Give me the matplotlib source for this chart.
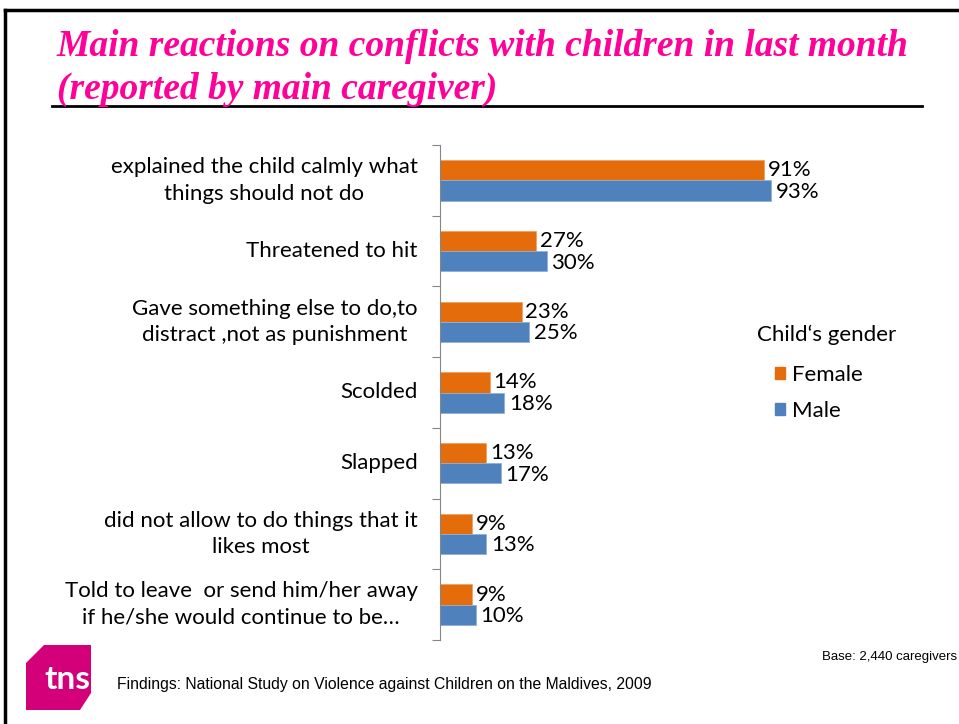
import matplotlib
matplotlib.use('Agg')
import matplotlib.pyplot as plt
from matplotlib.patches import Polygon, Patch
from matplotlib.lines import Line2D
import numpy as np

categories = [
    'explained the child calmly what\nthings should not do',
    'Threatened to hit',
    'Gave something else to do,to\ndistract ,not as punishment',
    'Scolded',
    'Slapped',
    'did not allow to do things that it\nlikes most',
    'Told to leave  or send him/her away\nif he/she would continue to be…',
]
female = [91, 27, 23, 14, 13, 9, 9]
male = [93, 30, 25, 18, 17, 13, 10]

ORANGE = '#E46C0A'
BLUE = '#4F81BD'
PINK = '#FF0099'
W, H = 959, 724

plt.rcParams['font.family'] = ['Lato', 'DejaVu Sans']

fig = plt.figure(figsize=(W / 100, H / 100), dpi=100)


def px(x0, y0, x1, y1):
    # pixel box (top-left origin) -> figure fraction rect
    return [x0 / W, 1 - y1 / H, (x1 - x0) / W, (y1 - y0) / H]


# slide frame
fig.add_artist(Line2D([5 / W, 1], [1 - 10 / H, 1 - 10 / H], color='black', lw=2.5,
                      transform=fig.transFigure))
fig.add_artist(Line2D([5 / W, 5 / W], [1 - 10 / H, 0], color='black', lw=2.5,
                      transform=fig.transFigure))

# title
fig.text(57 / W, 1 - 56 / H, 'Main reactions on conflicts with children in last month',
         family='Liberation Serif', weight='bold', style='italic', color=PINK,
         fontsize=27, va='baseline', ha='left')
fig.text(57 / W, 1 - 99 / H, '(reported by main caregiver)',
         family='Liberation Serif', weight='bold', style='italic', color=PINK,
         fontsize=27, va='baseline', ha='left')
fig.add_artist(Line2D([52 / W, 922 / W], [1 - 106 / H, 1 - 106 / H], color='black',
                      lw=2, transform=fig.transFigure))

# bar chart
ax = fig.add_axes(px(440, 145, 796, 640))
n = len(categories)
y = np.arange(n)
h = 0.285
ax.barh(y - h / 2, female, height=h, color=ORANGE, edgecolor='#F0A060', lw=0.6, label='Female')
ax.barh(y + h / 2, male, height=h, color=BLUE, edgecolor='#8FB0DA', lw=0.6, label='Male')
for i in range(n):
    ax.text(female[i] + 1.0, y[i] - h / 2, f'{female[i]}%', va='center', ha='left', fontsize=16)
    ax.text(male[i] + 1.3, y[i] + h / 2 + 0.02, f'{male[i]}%', va='center', ha='left', fontsize=16)

ax.set_xlim(0, 100)
ax.set_ylim(n - 0.5, -0.5)
for s in ['top', 'right', 'bottom']:
    ax.spines[s].set_visible(False)
ax.spines['left'].set_color('#868686')
ax.set_xticks([])
ax.set_yticks(np.arange(n + 1) - 0.5)
ax.set_yticklabels([])
ax.tick_params(axis='y', length=6, color='#868686', direction='out')

for i, c in enumerate(categories):
    ax.text(-6.3, y[i], c, ha='right', va='center', fontsize=16, linespacing=1.4,
            multialignment='center')

# legend
fig.text(757 / W, 1 - 335 / H, 'Child\u2018s gender', fontsize=16, va='center', ha='left')
handles = [Patch(color=ORANGE), Patch(color=BLUE)]
fig.legend(handles, ['Female', 'Male'], loc='upper left', bbox_to_anchor=(766 / W, 1 - 356 / H),
           frameon=False, fontsize=16, handlelength=0.45, handleheight=0.45, handletextpad=0.3,
           labelspacing=0.72, borderaxespad=0)

# footer
fig.text(117 / W, 1 - 685 / H, 'Findings: National Study on Violence against Children on the Maldives, 2009',
         family='Liberation Sans', fontsize=11.3, va='center', ha='left')
fig.text(957 / W, 1 - 657 / H, 'Base: 2,440 caregivers', family='Liberation Sans',
         fontsize=9.5, va='center', ha='right')

# logo
logo_pts = [(26, 663), (44, 645), (91, 645), (91, 693), (80, 710), (26, 710)]
logo = Polygon([(x / W, 1 - yy / H) for x, yy in logo_pts], closed=True,
               facecolor='#D4007A', edgecolor='none', transform=fig.transFigure)
fig.add_artist(logo)
t = fig.text(44 / W, 1 - 689 / H, 'tns', color='white', fontsize=24, weight='bold',
             family='Lato', va='baseline', ha='left')
t.set_clip_path(logo)

fig.savefig('out.png', dpi=100)
